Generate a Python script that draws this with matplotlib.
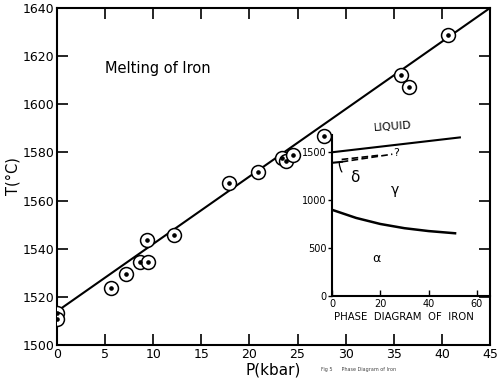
import matplotlib.pyplot as plt

# melting point measurements, pressure (kbar) vs temperature (C)
pressure = [0.0, 0.0, 5.6, 7.2, 8.6, 9.5, 9.4, 12.2, 17.9, 20.9, 23.4, 23.8, 24.5,
            27.8, 35.7, 36.6, 40.6]
temperature = [1513.5, 1511.0, 1523.6, 1529.3, 1534.6, 1534.6, 1543.6, 1545.5,
               1567.5, 1571.9, 1577.7, 1576.5, 1579.1, 1587.0, 1612.0, 1607.3, 1628.9]

# fitted melting curve
fit_p = [0, 45]
fit_t = [1514, 1640]

# inset phase boundaries (P in kbar, T in C)
liquid_p = [0, 53]
liquid_t = [1500, 1655]
delta_solid_p = [0, 4]
delta_solid_t = [1390, 1400]
delta_dash1_p = [4, 25]
delta_dash1_t = [1400, 1480]
delta_dash2_p = [4, 20]
delta_dash2_t = [1425, 1470]
ga_p = [0, 10, 20, 30, 40, 51]
ga_t = [900, 815, 752, 708, 678, 655]

plt.rcParams['font.family'] = 'DejaVu Sans'

fig = plt.figure(figsize=(4.97, 3.88), dpi=100)
ax = fig.add_axes([0.1147, 0.1108, 0.8712, 0.8686])

ax.plot(fit_p, fit_t, color='black', lw=1.5, zorder=2)
ax.plot(pressure, temperature, 'o', ms=10, mfc='white', mec='black', mew=1.1, zorder=3)
ax.plot(pressure, temperature, 'o', ms=2.3, color='black', zorder=4)

ax.set_xlim(0, 45)
ax.set_ylim(1500, 1640)
ax.set_xticks(range(0, 46, 5))
ax.set_yticks(range(1500, 1641, 20))
ax.tick_params(direction='in', length=8, width=1.2, top=True, right=True,
               labelsize=9, pad=2)
for s in ax.spines.values():
    s.set_linewidth(1.5)

ax.text(5, 1615, 'Melting of Iron', fontsize=10.5, va='center', ha='left')
ax.set_xlabel('P(kbar)', fontsize=11, labelpad=1)
ax.set_ylabel('T(°C)', fontsize=10.5)
ax.yaxis.set_label_coords(-0.085, 0.5)
fig.text(0.645, 0.045, 'Fig 5      Phase Diagram of Iron', fontsize=3.5, color='#444444')

# inset: phase diagram
ins = fig.add_axes([0.668, 0.237, 0.318, 0.415], facecolor='none')
ins.plot(liquid_p, liquid_t, color='black', lw=1.5)
ins.plot(delta_solid_p, delta_solid_t, color='black', lw=1.5)
ins.plot(delta_dash1_p, delta_dash1_t, color='black', lw=1.2, ls=(0, (4, 2)))
ins.plot(delta_dash2_p, delta_dash2_t, color='black', lw=1.2, ls=(0, (4, 2)))
ins.plot(ga_p, ga_t, color='black', lw=1.8)

ins.set_xlim(0, 65.5)
ins.set_ylim(0, 1680)
ins.set_xticks([0, 20, 40, 60])
ins.set_yticks([0, 500, 1000, 1500])
ins.tick_params(axis='x', direction='in', length=4, width=1, labelsize=7, pad=2)
ins.tick_params(axis='y', direction='out', length=3, width=1, labelsize=7, pad=1)
ins.spines['top'].set_visible(False)
ins.spines['right'].set_visible(False)
ins.spines['left'].set_linewidth(1.5)
ins.spines['bottom'].set_linewidth(1.5)

ins.text(25, 1700, 'LIQUID', fontsize=8, ha='center', va='bottom', rotation=4)
ins.text(26.5, 1490, '?', fontsize=8, ha='center', va='center')
ins.annotate('δ', xy=(3, 1395), xytext=(9.5, 1240), fontsize=11, ha='center', va='center',
             arrowprops=dict(arrowstyle='-', lw=0.9, color='black',
                             connectionstyle='arc3,rad=-0.5', shrinkA=5, shrinkB=0))
ins.text(26, 1110, 'γ', fontsize=10, ha='center', va='center')
ins.text(18.5, 390, 'α', fontsize=9, ha='center', va='center')
ins.text(0.456, -0.13, 'PHASE  DIAGRAM  OF  IRON', transform=ins.transAxes,
         fontsize=7.3, ha='center', va='center')

fig.savefig('out.png', dpi=100)
